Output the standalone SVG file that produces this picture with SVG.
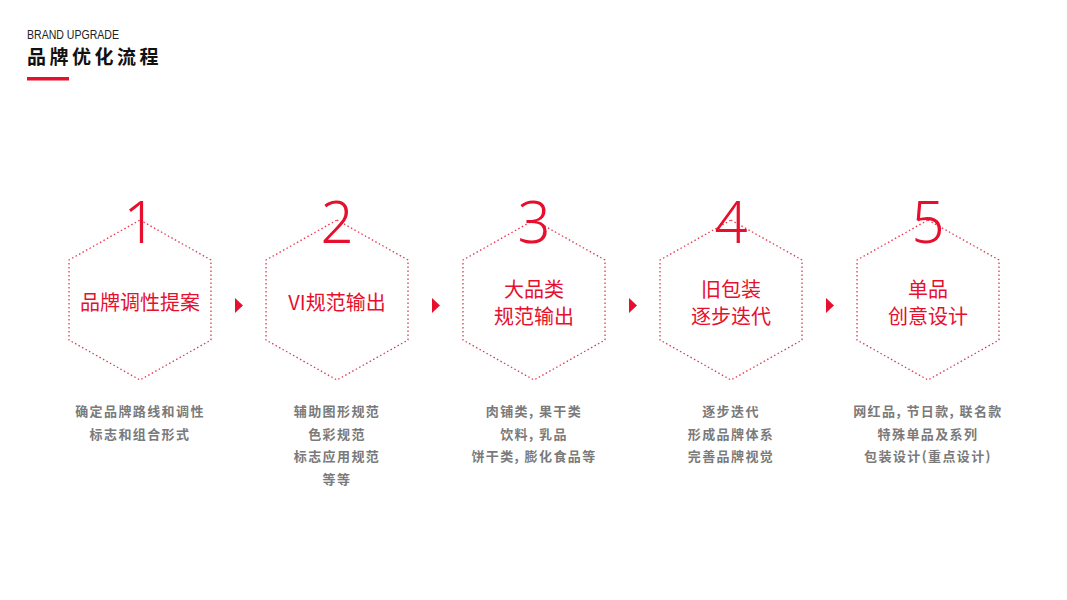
<svg xmlns="http://www.w3.org/2000/svg" width="1067" height="600" viewBox="0 0 1067 600">
<defs>
<style>
.hex{fill:none;stroke:#e8354f;stroke-width:1.3;stroke-dasharray:1.5 2.5;stroke-linejoin:round}
.num{font-family:"Noto Sans","Liberation Sans",sans-serif;font-weight:300;font-size:58px;fill:#e60f2d;text-anchor:middle}
.lbl{font-family:"Noto Sans CJK SC",sans-serif;font-size:20px;fill:#e60f2d;text-anchor:middle}
.desc{font-family:"Noto Sans CJK SC",sans-serif;font-weight:700;font-size:13px;letter-spacing:1.4px;fill:#7a7a7a;text-anchor:middle}
.arr{fill:#e60f2d}
</style>
<polygon id="hexshape" class="hex" points="0,-80 71,-40 71,40 0,80 -71,40 -71,-40"/>
</defs>
<rect width="1067" height="600" fill="#fff"/>
<g id="header">
<text x="27" y="39" font-family="Liberation Sans,sans-serif" font-size="12" fill="#222" textLength="92" lengthAdjust="spacingAndGlyphs">BRAND UPGRADE</text>
<text x="27" y="64" font-family="Noto Sans CJK SC,sans-serif" font-weight="700" font-size="19" fill="#111" letter-spacing="3.5">品牌优化流程</text>
<rect x="27" y="77" width="42" height="3.5" fill="#e60f2d"/>
</g>
<g id="connectors">
<polygon class="arr" points="235,298 243,305.5 235,313"/>
<polygon class="arr" points="432,298 440,305.5 432,313"/>
<polygon class="arr" points="629,298 637,305.5 629,313"/>
<polygon class="arr" points="826,298 834,305.5 826,313"/>
</g>
<g id="node1">
<use href="#hexshape" x="140" y="300"/>
<text class="num" x="140" y="243">1</text>
<text class="lbl" x="140" y="310">品牌调性提案</text>
<text class="desc" x="140" y="416">确定品牌路线和调性</text>
<text class="desc" x="140" y="439">标志和组合形式</text>
</g>
<g id="node2">
<use href="#hexshape" x="337" y="300"/>
<text class="num" x="337" y="243">2</text>
<text class="lbl" x="337" y="310">VI规范输出</text>
<text class="desc" x="337" y="416">辅助图形规范</text>
<text class="desc" x="337" y="439">色彩规范</text>
<text class="desc" x="337" y="461">标志应用规范</text>
<text class="desc" x="337" y="484">等等</text>
</g>
<g id="node3">
<use href="#hexshape" x="534" y="300"/>
<text class="num" x="534" y="243">3</text>
<text class="lbl" x="534" y="297">大品类</text>
<text class="lbl" x="534" y="324">规范输出</text>
<text class="desc" x="534" y="416">肉铺类, 果干类</text>
<text class="desc" x="534" y="439">饮料, 乳品</text>
<text class="desc" x="534" y="461">饼干类, 膨化食品等</text>
</g>
<g id="node4">
<use href="#hexshape" x="731" y="300"/>
<text class="num" x="731" y="243">4</text>
<text class="lbl" x="731" y="297">旧包装</text>
<text class="lbl" x="731" y="324">逐步迭代</text>
<text class="desc" x="731" y="416">逐步迭代</text>
<text class="desc" x="731" y="439">形成品牌体系</text>
<text class="desc" x="731" y="461">完善品牌视觉</text>
</g>
<g id="node5">
<use href="#hexshape" x="928" y="300"/>
<text class="num" x="928" y="243">5</text>
<text class="lbl" x="928" y="297">单品</text>
<text class="lbl" x="928" y="324">创意设计</text>
<text class="desc" x="928" y="416">网红品, 节日款, 联名款</text>
<text class="desc" x="928" y="439">特殊单品及系列</text>
<text class="desc" x="928" y="461">包装设计(重点设计)</text>
</g>
</svg>
